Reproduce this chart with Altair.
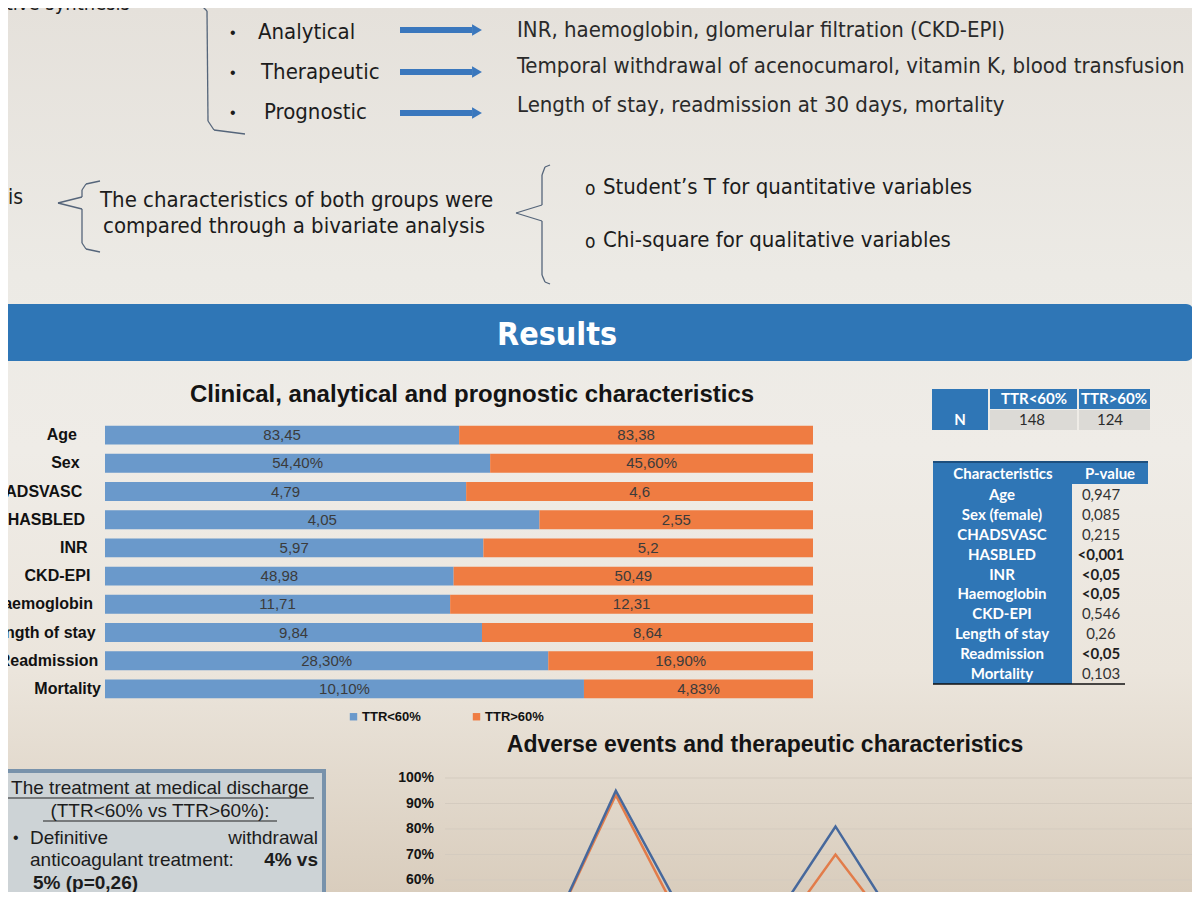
import altair as alt
import pandas as pd

# ---------------- data ----------------
rows = ["Age", "Sex", "CHADSVASC", "HASBLED", "INR", "CKD-EPI",
        "Haemoglobin", "Length of stay", "Readmission", "Mortality"]
groups = ["TTR<60%", "TTR>60%"]
low_vals = [83.45, 54.40, 4.79, 4.05, 5.97, 48.98, 11.71, 9.84, 28.30, 10.10]
high_vals = [83.38, 45.60, 4.6, 2.55, 5.2, 50.49, 12.31, 8.64, 16.90, 4.83]
low_labels = ["83,45", "54,40%", "4,79", "4,05", "5,97", "48,98", "11,71", "9,84", "28,30%", "10,10%"]
high_labels = ["83,38", "45,60%", "4,6", "2,55", "5,2", "50,49", "12,31", "8,64", "16,90%", "4,83%"]

char_names = ["Age", "Sex (female)", "CHADSVASC", "HASBLED", "INR", "Haemoglobin",
              "CKD-EPI", "Length of stay", "Readmission", "Mortality"]
pvalues = ["0,947", "0,085", "0,215", "<0,001", "<0,05", "<0,05", "0,546", "0,26", "<0,05", "0,103"]
p_bold = [False, False, False, True, True, True, False, False, True, False]

n_low, n_high = "148", "124"

line_cats = ["Intracranial bleeding", "Temporal withdrawal of acenocumarol", "Gastrointestinal bleeding",
             "Vitamin K", "Haematuria", "Blood transfusion", "Other bleeding"]
line_low = [1, 95, 15.5, 81, 13, 20, 8]
line_high = [2, 93.3, 10, 70, 13.5, 16, 6]
pct_ticks = [50, 60, 70, 80, 90, 100]

# ---------------- style ----------------
W, H = 1184, 884
NARROW = "Liberation Sans Narrow, DejaVu Sans Condensed, sans-serif"
ARIAL = "Liberation Sans, Arial, sans-serif"
CAL = "Lato, Open Sans, sans-serif"
BLUE_BAR, ORANGE_BAR = "#6a99cb", "#ef7c42"
BLUE_LINE, ORANGE_LINE = "#46689c", "#e27c4a"
POSTER_BLUE = "#2f76b6"
INK = "#1c1c1c"

one = pd.DataFrame({"a": [0]})


def text(s, x, y, size, weight="normal", align="left", color=INK, font=ARIAL):
    return alt.Chart(one).mark_text(
        text=s, align=align, baseline="middle", fontSize=size,
        fontWeight=weight, font=font, color=color
    ).encode(x=alt.value(x), y=alt.value(y))


def rule(x0, y0, x1, y1, color="#55657a", w=1.3):
    return alt.Chart(one).mark_rule(color=color, strokeWidth=w).encode(
        x=alt.value(x0), y=alt.value(y0), x2=alt.value(x1), y2=alt.value(y1))


def rect(x0, y0, x1, y1, color, **kw):
    return alt.Chart(one).mark_rect(color=color, **kw).encode(
        x=alt.value(x0), x2=alt.value(x1), y=alt.value(y0), y2=alt.value(y1))


def poly(points, **kw):
    return [rule(points[i][0] - 8, points[i][1] - 8, points[i + 1][0] - 8, points[i + 1][1] - 8, **kw)
            for i in range(len(points) - 1)]


layers = []

# background gradient
layers.append(alt.Chart(one).mark_rect(
    color=alt.LinearGradient(
        gradient="linear", x1=0, x2=0, y1=0, y2=1,
        stops=[alt.GradientStop(color="#e5e1db", offset=0),
               alt.GradientStop(color="#eceae5", offset=0.3),
               alt.GradientStop(color="#efece7", offset=0.5),
               alt.GradientStop(color="#ebe5dc", offset=0.75),
               alt.GradientStop(color="#d9cdbd", offset=1)])
).encode(x=alt.value(0), x2=alt.value(W), y=alt.value(0), y2=alt.value(H)))

# ---------- top section ----------
layers.append(text("Descriptive synthesis", 122, -4, 20, font=NARROW, align="right"))
layers += poly([(163, 0), (200, 4), (207, 11), (208, 121), (214, 130), (245, 134)])
top_labels = [("Analytical", 250, 24), ("Therapeutic", 253, 64), ("Prognostic", 256, 104)]
for lab, x, y in top_labels:
    layers.append(text("•", 222, y + 1, 16))
    layers.append(text(lab, x, y, 22, font=NARROW))
for y in [22, 64, 105]:
    layers.append(rect(392, y - 3, 464, y + 3, "#3a77bd"))
    layers.append(alt.Chart(one).mark_point(shape="triangle-right", filled=True, size=130,
                                            color="#3a77bd", opacity=1)
                  .encode(x=alt.value(469), y=alt.value(y)))
layers.append(text("INR, haemoglobin, glomerular filtration (CKD-EPI)", 509, 22, 22, font=NARROW, color="#2a2a2a"))
layers.append(text("Temporal withdrawal of acenocumarol, vitamin K, blood transfusion", 509, 58, 22, font=NARROW, color="#2a2a2a"))
layers.append(text("Length of stay, readmission at 30 days, mortality", 509, 97, 22, font=NARROW, color="#2a2a2a"))

# ---------- middle section ----------
layers.append(text("Statistical analysis", 15, 190, 21, font=NARROW, align="right"))
layers += poly([(100, 181), (86, 184), (82, 190), (82, 197), (58, 203), (82, 209),
                (82, 243), (86, 249), (100, 252)])
layers.append(text("The characteristics of both groups were", 92, 192, 22, font=NARROW))
layers.append(text("compared through a bivariate analysis", 95, 218, 22, font=NARROW))
layers += poly([(550, 165), (545, 167), (542, 175), (542, 205), (516, 213), (542, 221),
                (542, 275), (545, 282), (550, 284)])
layers.append(text("o", 577, 181, 19, font=NARROW))
layers.append(text("Student\u2019s T for quantitative variables", 595, 179, 22, font=NARROW))
layers.append(text("o", 577, 234, 19, font=NARROW))
layers.append(text("Chi-square for qualitative variables", 595, 232, 22, font=NARROW))

# ---------- banner ----------
layers.append(rect(-12, 296, 1186, 353, POSTER_BLUE, cornerRadius=8))
layers.append(text("Results", 549, 327, 32, weight="bold", font=NARROW, color="white", align="center"))

# ---------- bar chart ----------
layers.append(text("Clinical, analytical and prognostic characteristics", 464, 387, 24,
                   weight="bold", align="center", color="#141414"))

bar_df = pd.DataFrame({
    "row": rows + rows,
    "group": [groups[0]] * len(rows) + [groups[1]] * len(rows),
    "order": [0] * len(rows) + [1] * len(rows),
    "value": low_vals + high_vals,
    "label": low_labels + high_labels,
})
xs = alt.Scale(domain=[0, 1], range=[97, 805], nice=False, zero=False)
ys = alt.Scale(domain=rows, range=[413, 695], paddingInner=0.33, paddingOuter=0.165)

stacked = alt.Chart(bar_df).transform_stack(
    stack="value", groupby=["row"], as_=["v0", "v1"], offset="normalize",
    sort=[alt.SortField("order", "ascending")]
).transform_calculate(mid="(datum.v0 + datum.v1) / 2")

bars = stacked.mark_bar().encode(
    x=alt.X("v0:Q", scale=xs, axis=None),
    x2="v1:Q",
    y=alt.Y("row:N", scale=ys, axis=None),
    color=alt.Color("group:N", scale=alt.Scale(domain=groups, range=[BLUE_BAR, ORANGE_BAR]),
                    legend=alt.Legend(orient="none", legendX=339, legendY=702, direction="horizontal",
                                      title=None, symbolType="square", symbolSize=55,
                                      symbolStrokeWidth=0, labelFontSize=13, labelFontWeight="bold",
                                      labelColor="#111", labelFont=ARIAL, columnPadding=49,
                                      symbolOpacity=1, labelOffset=2)),
)
bar_labels = stacked.mark_text(fontSize=15, color="#3b3b3b", font=ARIAL).encode(
    x=alt.X("mid:Q", scale=xs, axis=None),
    y=alt.Y("row:N", scale=ys, axis=None),
    text="label:N",
)
# row labels follow the slight perspective of the photographed poster
row_labels = alt.Chart(pd.DataFrame({"row": rows})).mark_text(
    align="right", fontSize=16, fontWeight="bold", font=ARIAL, color="#111"
).encode(
    x=alt.X("row:N", scale=alt.Scale(domain=rows, range=[69, 93], type="point", padding=0), axis=None),
    y=alt.Y("row:N", scale=ys, axis=None),
    text="row:N",
)
bar_chart = alt.layer(bars, bar_labels, row_labels).resolve_scale(x="independent")

# ---------- N table ----------
layers.append(rect(924, 381, 980, 422, POSTER_BLUE))
layers.append(rect(982, 381, 1069, 401, POSTER_BLUE))
layers.append(rect(1071, 381, 1142, 401, POSTER_BLUE))
layers.append(rect(982, 402, 1069, 422, "#dcdad6"))
layers.append(rect(1071, 402, 1142, 422, "#dcdad6"))
layers.append(text(groups[0], 1026, 391, 15, weight="bold", color="white", align="center", font=CAL))
layers.append(text(groups[1], 1106, 391, 15, weight="bold", color="white", align="center", font=CAL))
layers.append(text("N", 952, 412, 15, weight="bold", color="white", align="center", font=CAL))
layers.append(text(n_low, 1024, 412, 15, color="#2b2b2b", align="center", font=CAL))
layers.append(text(n_high, 1102, 412, 15, color="#2b2b2b", align="center", font=CAL))

# ---------- characteristics table ----------
layers.append(rect(925, 454, 1140, 476, POSTER_BLUE))
layers.append(rule(925, 454, 1140, 454, color="#1d4f7e", w=2))
layers.append(rect(925, 476, 1064, 676, POSTER_BLUE))
layers.append(rule(925, 676, 1117, 676, color="#111", w=1.6))
layers.append(text("Characteristics", 995, 466, 15, weight="bold", color="white", align="center", font=CAL))
layers.append(text("P-value", 1102, 466, 15, weight="bold", color="white", align="center", font=CAL))

tab_df = pd.DataFrame({"char": char_names, "p": pvalues, "bold": p_bold})
ts = alt.Scale(domain=char_names, range=[487, 666], type="point", padding=0)
tab_names = alt.Chart(tab_df).mark_text(fontSize=15, fontWeight="bold", color="white", font=CAL).encode(
    x=alt.value(994), y=alt.Y("char:N", scale=ts, axis=None), text="char:N")
tab_p = alt.Chart(tab_df).transform_filter("!datum.bold").mark_text(
    fontSize=15, color="#333", font=CAL).encode(
    x=alt.value(1093), y=alt.Y("char:N", scale=ts, axis=None), text="p:N")
tab_pb = alt.Chart(tab_df).transform_filter("datum.bold").mark_text(
    fontSize=15, fontWeight="bold", color="#1e1e1e", font=CAL).encode(
    x=alt.value(1093), y=alt.Y("char:N", scale=ts, axis=None), text="p:N")
table_chart = alt.layer(tab_names, tab_p, tab_pb)

# ---------- bottom-left box ----------
layers.append(rect(-12, 763, 316, 905, "#cdd3d6", stroke="#7892ab", strokeWidth=4))
layers.append(text("The treatment at medical discharge", 152, 780, 19, align="center"))
layers.append(rule(-2, 790, 306, 790, color="#222", w=1.2))
layers.append(text("(TTR<60% vs TTR>60%):", 152, 803, 19, align="center"))
layers.append(rule(35, 813, 269, 813, color="#222", w=1.2))
layers.append(text("•", 5, 830, 16))
layers.append(text("Definitive", 22, 830, 19))
layers.append(text("withdrawal", 310, 830, 19, align="right"))
layers.append(text("anticoagulant  treatment:", 22, 852, 19))
layers.append(text("4%  vs", 310, 852, 19, weight="bold", align="right"))
layers.append(text("5% (p=0,26)", 25, 875, 19, weight="bold"))

# ---------- line chart ----------
layers.append(text("Adverse events and therapeutic characteristics", 757, 737, 23,
                   weight="bold", align="center", color="#141414"))
ly = alt.Scale(domain=[0, 100], range=[1025, 770], nice=False, zero=False)
tick_df = pd.DataFrame({"t": pct_ticks})
grid = alt.Chart(tick_df).mark_rule(color="#d4cbbf", strokeWidth=1).encode(
    y=alt.Y("t:Q", scale=ly, axis=None), x=alt.value(437), x2=alt.value(W))
tick_labels = alt.Chart(tick_df).transform_calculate(lab="datum.t + '%'").mark_text(
    align="right", fontSize=14, fontWeight="bold", font=ARIAL, color="#141414").encode(
    y=alt.Y("t:Q", scale=ly, axis=None), x=alt.value(426), text="lab:N")
line_df = pd.DataFrame({
    "cat": line_cats + line_cats,
    "group": [groups[1]] * len(line_cats) + [groups[0]] * len(line_cats),
    "v": line_high + line_low,
})
lines = alt.Chart(line_df).mark_line(strokeWidth=2.5).encode(
    x=alt.X("cat:N", scale=alt.Scale(domain=line_cats, range=[498, 1157], type="point", padding=0), axis=None),
    y=alt.Y("v:Q", scale=ly, axis=None),
    color=alt.Color("group:N", scale=alt.Scale(domain=groups, range=[BLUE_LINE, ORANGE_LINE]), legend=None),
    detail="group:N",
)
line_chart = alt.layer(grid, tick_labels, lines)

chart = alt.layer(*layers, bar_chart, table_chart, line_chart).resolve_scale(
    x="independent", y="independent", color="independent"
).properties(
    width=W, height=H, padding=0, autosize="none", background="#e9e5de"
).configure_view(strokeWidth=0)

chart.save("out.html", embed_options={"renderer": "svg", "actions": False})
